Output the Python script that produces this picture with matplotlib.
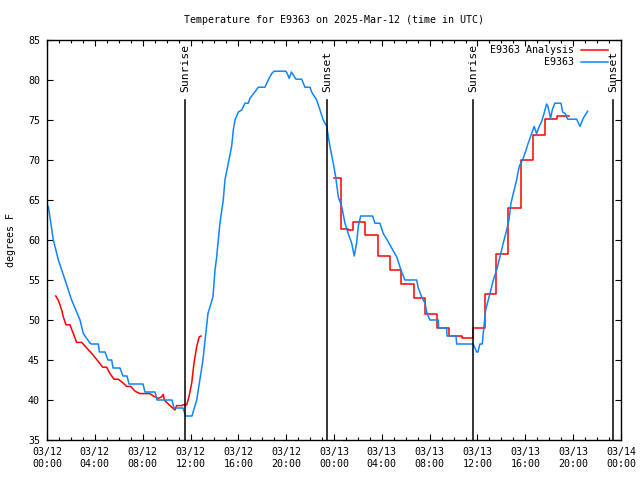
import numpy as np
import matplotlib
matplotlib.use('Agg')
import matplotlib.pyplot as plt

# hours since 03/12 00:00 UTC
blue_hours = [0.11, 0.53, 0.95, 1.51, 2.06, 2.76, 3.04, 3.6, 3.73, 4.29, 4.38, 4.85, 5.1, 5.41,
              5.52, 6.1, 6.35, 6.69, 6.86, 8.03, 8.19, 9.03, 9.2, 10.45, 10.62, 11.37, 11.6, 12.12,
              12.52, 13.04, 13.46, 13.88, 14.05, 14.19, 14.46, 14.74, 14.88, 15.16, 15.44, 15.58,
              15.72, 16.0, 16.28, 16.56, 16.83, 16.97, 17.25, 17.67, 18.23, 18.5, 18.79, 18.98,
              19.98, 20.09, 20.26, 20.43, 20.6, 20.82, 21.3, 21.57, 21.99, 22.13, 22.55, 22.83,
              23.1, 23.39, 23.66, 23.94, 24.14, 24.36, 24.64, 24.92, 25.19, 25.48, 25.69, 25.89,
              26.03, 26.23, 27.23, 27.42, 27.84, 28.12, 28.45, 28.82, 29.24, 29.66, 29.93, 30.91,
              31.05, 31.33, 31.61, 31.75, 32.02, 32.72, 32.75, 33.42, 33.45, 34.2, 34.26, 35.64,
              35.79, 35.93, 36.04, 36.2, 36.4, 36.48, 36.68, 37.04, 37.32, 37.6, 37.88, 38.15,
              38.44, 38.63, 38.8, 38.99, 39.27, 39.49, 39.77, 40.05, 40.24, 40.53, 40.74, 40.94,
              41.16, 41.36, 41.56, 41.78, 41.89, 42.11, 42.25, 42.47, 42.98, 43.12, 43.34, 43.54,
              44.29, 44.57, 44.84, 45.21]
blue_temp = [64.2, 60, 57.5, 55, 52.5, 50, 48.3, 47.1, 47, 47, 46, 46, 45, 45,
             44, 44, 43, 43, 42, 42, 41, 41, 40, 40, 39, 39, 38, 38,
             40, 45, 50.8, 52.9, 56.25, 57.9, 62.1, 65, 67.5, 69.6, 71.7, 73.75,
             75, 76, 76.25, 77.1, 77.1, 77.7, 78.25, 79.1, 79.1, 80, 80.8, 81.1,
             81.1, 80.8, 80.2, 81, 80.6, 80.1, 80.1, 79.1, 79.1, 78.5, 77.5, 76.25,
             75, 74.2, 71.7, 69.6, 67.9, 65.4, 64.2, 62.1, 60.8, 59.6, 58, 59.6,
             61.7, 63, 63, 62.1, 62.1, 60.8, 60, 59, 57.9, 56, 55, 55,
             54, 52.9, 52.1, 51, 50, 50, 49, 49, 48, 48, 47, 47,
             46.5, 46, 46, 47, 47, 48.3, 51.25, 53.3, 55, 56.25, 57.9, 59.6,
             61.25, 62.5, 64.6, 65.8, 67.5, 69.2, 70, 71.2, 72.1, 73.3, 74.2, 73.3,
             74.2, 74.8, 75.8, 77, 76.7, 75.2, 76.25, 77.1, 77.1, 76, 75.8, 75.1,
             75.1, 74.2, 75.2, 76.1]

red1_hours = [0.73, 0.94, 1.23, 1.36, 1.59, 1.92, 2.2, 2.48, 2.9, 3.32, 3.87, 4.29, 4.66, 4.99,
              5.27, 5.6, 5.96, 6.38, 6.66, 7.0, 7.36, 7.78, 8.61, 8.89, 9.31, 9.59, 9.72, 9.81,
              10.14, 10.7, 10.84, 11.31, 11.37, 11.68, 11.87, 12.1, 12.29, 12.52, 12.73, 12.88]
red1_temp = [53, 52.5, 51.25, 50.4, 49.4, 49.4, 48.3, 47.2, 47.2, 46.5, 45.6, 44.8, 44.1, 44.1,
             43.3, 42.6, 42.6, 42.1, 41.7, 41.7, 41.1, 40.8, 40.8, 40.5, 40.2, 40.4, 40.7, 40.0,
             39.5, 38.75, 39.3, 39.3, 39.4, 39.4, 40.4, 42.1, 44.6, 46.7, 47.9, 48.0]

red2_hours = [24.02, 24.58, 25.17, 25.59, 26.59, 27.65, 28.68, 29.6, 30.69, 31.61, 32.63, 33.61,
              34.67, 35.62, 36.62, 37.58, 38.57, 39.63, 40.66, 41.64, 42.67, 43.67]
red2_temp = [67.7, 61.4, 61.2, 62.2, 60.6, 58.0, 56.25, 54.5, 52.7, 50.7, 49.0, 48.0,
             47.7, 49.0, 53.3, 58.3, 64.0, 70.0, 73.1, 75.1, 75.5, 75.5]

sun_hours = [11.54, 23.41, 35.62, 47.35]
sun_names = ['Sunrise', 'Sunset', 'Sunrise', 'Sunset']

xtick_hours = list(range(0, 49, 4))
xtick_labels = ['03/12\n00:00', '03/12\n04:00', '03/12\n08:00', '03/12\n12:00', '03/12\n16:00',
                '03/12\n20:00', '03/13\n00:00', '03/13\n04:00', '03/13\n08:00', '03/13\n12:00',
                '03/13\n16:00', '03/13\n20:00', '03/14\n00:00']

plt.rcParams['font.family'] = 'DejaVu Sans Mono'
plt.rcParams['font.size'] = 7.2

red = '#ff0000'
blue = '#0f85ff'

fig = plt.figure(figsize=(6.4, 4.8), dpi=100)
ax = fig.add_axes([47/640, 40/480, 574/640, 400/480])

ax.plot(red1_hours, red1_temp, color=red, lw=1.1)
ax.plot(red2_hours, red2_temp, color=red, lw=1.1, drawstyle='steps-post')
ax.plot(blue_hours, blue_temp, color=blue, lw=1.1)

for h, name in zip(sun_hours, sun_names):
    ax.plot([h, h], [35, 77.5], color='black', lw=1.1)
    ax.text(h, 78.5, name, rotation=90, ha='center', va='bottom', fontsize=8.2)

ax.set_xlim(0, 48)
ax.set_ylim(35, 85)
ax.set_xticks(xtick_hours)
ax.set_xticklabels(xtick_labels)
ax.set_xticks(range(0, 49), minor=True)
ax.set_yticks(range(35, 86, 5))
ax.tick_params(which='both', direction='in', top=True, right=True, width=0.8)
ax.tick_params(which='major', length=4.5, pad=5)
ax.tick_params(which='minor', length=2.3)
for s in ax.spines.values():
    s.set_linewidth(1.0)

ax.set_title('Temperature for E9363 on 2025-Mar-12 (time in UTC)', fontsize=7.2, pad=12)
ax.set_ylabel('degrees F', labelpad=9)

# key, gnuplot style: right aligned text with a short line sample
ax.text(0.918, 0.976, 'E9363 Analysis', transform=ax.transAxes, ha='right', va='center')
ax.plot([0.93, 0.978], [0.976, 0.976], color=red, lw=1.1, transform=ax.transAxes)
ax.text(0.918, 0.944, 'E9363', transform=ax.transAxes, ha='right', va='center')
ax.plot([0.93, 0.978], [0.944, 0.944], color=blue, lw=1.1, transform=ax.transAxes)

fig.savefig('out.png', dpi=100)
